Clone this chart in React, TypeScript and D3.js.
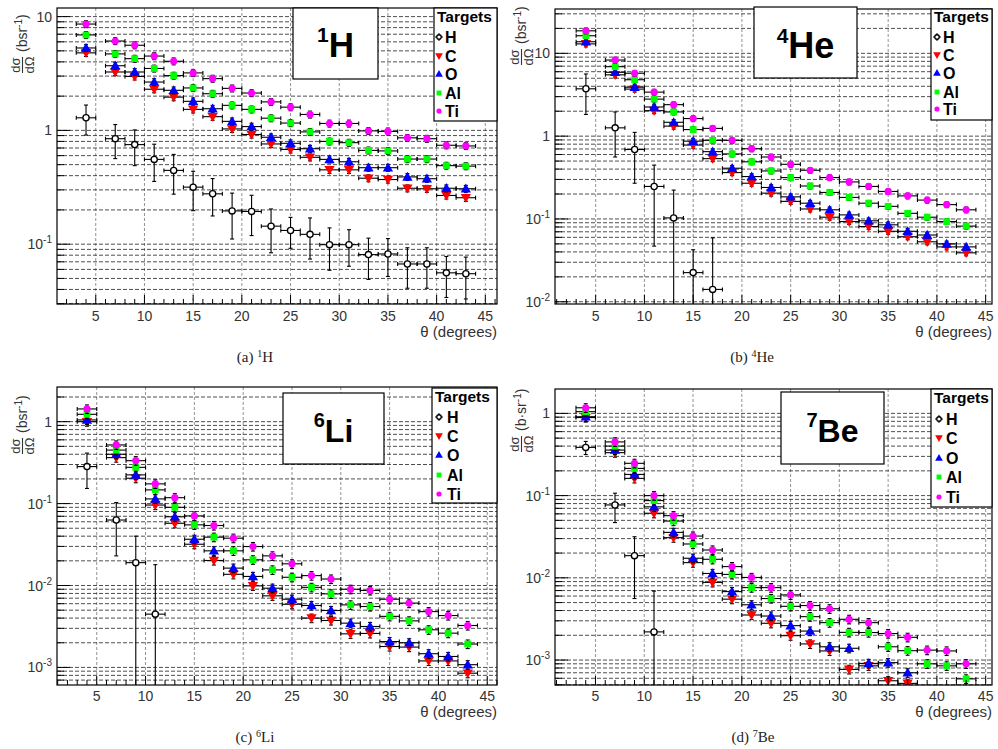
import React from "react";
import * as d3 from "d3";

// Angular bins (degrees): centres, each bin is ±1°
const ANGLES = [4, 7, 9, 11, 13, 15, 17, 19, 21, 23, 25, 27, 29, 31, 33, 35, 37, 39, 41, 43];
const BIN_HALF = 1;

// (a) 1H fragments
const H_A = [1.29, 0.845, 0.75, 0.556, 0.445, 0.317, 0.277, 0.196, 0.194, 0.144, 0.132, 0.122, 0.099, 0.099, 0.081, 0.082, 0.067, 0.067, 0.056, 0.055];
const H_A_ERR = [0.38, 0.28, 0.26, 0.2, 0.17, 0.12, 0.1, 0.085, 0.075, 0.06, 0.04, 0.048, 0.04, 0.035, 0.032, 0.03, 0.026, 0.026, 0.022, 0.022];
const C_A = [4.8, 3.26, 2.98, 2.3, 1.96, 1.53, 1.32, 1.03, 0.92, 0.76, 0.68, 0.58, 0.45, 0.45, 0.38, 0.37, 0.31, 0.307, 0.268, 0.256];
const O_A = [5.3, 3.7, 3.26, 2.66, 2.25, 1.8, 1.55, 1.2, 1.08, 0.87, 0.77, 0.69, 0.556, 0.53, 0.47, 0.47, 0.39, 0.376, 0.31, 0.307];
const AL_A = [6.9, 4.7, 4.27, 3.5, 3.03, 2.36, 2.1, 1.66, 1.53, 1.28, 1.16, 0.97, 0.8, 0.78, 0.667, 0.66, 0.56, 0.56, 0.49, 0.485];
const TI_A = [8.6, 6.1, 5.6, 4.5, 4.05, 3.2, 2.85, 2.34, 2.13, 1.78, 1.6, 1.38, 1.15, 1.15, 0.99, 0.98, 0.86, 0.845, 0.74, 0.73];

// (b) 4He fragments
const H_B = [3.73, 1.26, 0.69, 0.247, 0.103, 0.0225, 0.0141];
const H_B_ERR = [1.9, 0.7, 0.42, 0.2, 0.12, 0.02, 0.045];
const C_B = [13, 5.5, 3.7, 2.03, 1.32, 0.78, 0.535, 0.363, 0.27, 0.205, 0.163, 0.132, 0.105, 0.093, 0.081, 0.071, 0.061, 0.053, 0.046, 0.039];
const O_B = [13.8, 5.9, 3.9, 2.25, 1.47, 0.87, 0.65, 0.41, 0.325, 0.24, 0.185, 0.155, 0.129, 0.112, 0.095, 0.085, 0.071, 0.064, 0.05, 0.046];
const AL_B = [16.3, 6.9, 4.8, 2.8, 1.96, 1.2, 0.89, 0.61, 0.49, 0.38, 0.316, 0.25, 0.209, 0.182, 0.155, 0.142, 0.117, 0.105, 0.093, 0.082];
const TI_B = [18.7, 8.3, 5.75, 3.4, 2.4, 1.63, 1.24, 0.89, 0.705, 0.56, 0.457, 0.387, 0.316, 0.28, 0.247, 0.215, 0.19, 0.169, 0.149, 0.129];

// (c) 6Li fragments
const H_C = [0.283, 0.063, 0.019, 0.00447];
const H_C_ERR = [0.13, 0.04, 0.021, 0.0135];
const C_C = [1.0, 0.364, 0.204, 0.096, 0.0575, 0.0319, 0.0202, 0.0137, 0.0099, 0.00748, 0.0059, 0.004, 0.00374, 0.00257, 0.0026, 0.0018, 0.00177, 0.0012, 0.0012, 0.00085];
const O_C = [1.05, 0.4, 0.224, 0.114, 0.069, 0.0367, 0.0265, 0.0163, 0.0129, 0.00927, 0.0068, 0.0057, 0.00495, 0.00347, 0.00316, 0.00207, 0.002, 0.00147, 0.00136, 0.00108];
const AL_C = [1.23, 0.45, 0.277, 0.147, 0.09, 0.055, 0.0389, 0.0265, 0.0206, 0.0155, 0.0126, 0.0095, 0.0079, 0.0058, 0.00554, 0.0042, 0.0037, 0.00288, 0.00262, 0.00193];
const TI_C = [1.43, 0.52, 0.334, 0.174, 0.118, 0.0707, 0.054, 0.0378, 0.0299, 0.023, 0.0184, 0.0132, 0.012, 0.009, 0.0087, 0.0068, 0.0061, 0.0048, 0.0043, 0.00325];

// (d) 7Be fragments
const H_D = [0.386, 0.077, 0.0186, 0.0022];
const H_D_ERR = [0.07, 0.03, 0.013, 0.0047];
const C_D = [0.89, 0.333, 0.162, 0.061, 0.0308, 0.0153, 0.0088, 0.0055, 0.00353, 0.0028, 0.00198, 0.00157, 0.00129, 0.00077, 0.00085, 0.00056, 0.00052, null, null, null];
const O_D = [0.91, 0.358, 0.181, 0.073, 0.0357, 0.0173, 0.0113, 0.0068, 0.0047, 0.00343, 0.00262, 0.00225, 0.00145, 0.00139, 0.00091, 0.00093, 0.0007, null, null, null];
const AL_D = [1.05, 0.4, 0.214, 0.087, 0.049, 0.0258, 0.0168, 0.011, 0.0076, 0.0056, 0.0045, 0.00337, 0.00285, 0.00217, 0.00216, 0.00145, 0.0013, 0.0009, 0.00085, 0.00059];
const TI_D = [1.17, 0.45, 0.247, 0.1, 0.057, 0.0322, 0.0218, 0.0137, 0.0101, 0.0076, 0.0062, 0.0046, 0.0042, 0.00313, 0.00285, 0.0021, 0.00189, 0.00132, 0.00129, 0.0009];

// Relative uncertainty on the heavy-target points, per panel
const TARGET_REL_ERR = [0.07, 0.08, 0.12, 0.12];

const TARGETS = ["H", "C", "O", "Al", "Ti"];
const X_TICKS = [5, 10, 15, 20, 25, 30, 35, 40, 45];

type Shape = "open" | "down" | "up" | "square" | "circle";
const STYLE: Record<string, { color: string; shape: Shape }> = {
  H: { color: "#000000", shape: "open" },
  C: { color: "#ff0000", shape: "down" },
  O: { color: "#0000ff", shape: "up" },
  Al: { color: "#00ff00", shape: "square" },
  Ti: { color: "#ff00ff", shape: "circle" },
};

const PANEL_DATA = [
  { H: H_A, Herr: H_A_ERR, C: C_A, O: O_A, Al: AL_A, Ti: TI_A },
  { H: H_B, Herr: H_B_ERR, C: C_B, O: O_B, Al: AL_B, Ti: TI_B },
  { H: H_C, Herr: H_C_ERR, C: C_C, O: O_C, Al: AL_C, Ti: TI_C },
  { H: H_D, Herr: H_D_ERR, C: C_D, O: O_D, Al: AL_D, Ti: TI_D },
];

const LAYOUT = [
  {
    key: "a", mass: "1", sym: "H", unit: "bsr",
    frame: [57, 8, 497, 304], x: [1.02, 46.2], y: [0.0298, 11.9], decades: [-1, 0, 1],
    title: { box: [293, 8, 378, 79], cx: 335.5, base: 57, size: 35, sup: 21 },
    legend: { box: [434, 8, 497, 121], head: 22, rows: [37, 56, 74, 93, 111], mx: 439, tx: 445 },
    ylab: [22, 65], cap: [255, 362], tickBase: 321, xTitleBase: 337,
  },
  {
    key: "b", mass: "4", sym: "He", unit: "bsr",
    frame: [555, 9, 992, 304], x: [0.83, 45.65], y: [0.0094, 34.3], decades: [-2, -1, 0, 1],
    title: { box: [754, 7, 857, 78], cx: 805.5, base: 58, size: 36, sup: 21 },
    legend: { box: [931, 9, 992, 120], head: 22, rows: [37, 55, 73, 92, 109], mx: 937, tx: 943 },
    ylab: [521, 57], cap: [752, 362], tickBase: 321, xTitleBase: 337,
  },
  {
    key: "c", mass: "6", sym: "Li", unit: "bsr",
    frame: [57, 387, 497, 685], x: [0.93, 46.0], y: [0.00061, 2.65], decades: [-3, -2, -1, 0],
    title: { box: [283, 393, 384, 464], cx: 333.5, base: 442, size: 32, sup: 20 },
    legend: { box: [432, 388, 497, 503], head: 402, rows: [417, 436, 455, 475, 494], mx: 439, tx: 447 },
    ylab: [22, 446], cap: [255, 742], tickBase: 701, xTitleBase: 717,
  },
  {
    key: "d", mass: "7", sym: "Be", unit: "b\u00b7sr",
    frame: [555, 389, 992, 685], x: [0.85, 45.65], y: [0.000497, 1.98], decades: [-3, -2, -1, 0],
    title: { box: [781, 392, 884, 464], cx: 832.5, base: 442, size: 32, sup: 20 },
    legend: { box: [931, 389, 992, 507], head: 403, rows: [419, 438, 458, 477, 497], mx: 939, tx: 946 },
    ylab: [521, 444], cap: [753, 742], tickBase: 701, xTitleBase: 717,
  },
];

const SANS = "'Liberation Sans', Arial, Helvetica, sans-serif";
const SERIF = "'Liberation Serif', 'DejaVu Serif', serif";

const triUp = d3.symbol().type(d3.symbolTriangle).size(46)() as string;
const triUpSmall = d3.symbol().type(d3.symbolTriangle).size(26)() as string;

function Marker({ shape, color, x, y, small }: { shape: Shape; color: string; x: number; y: number; small?: boolean }) {
  const k = small ? 0.72 : 1;
  switch (shape) {
    case "open":
      return <circle cx={x} cy={y} r={3.1 * k} fill="#fff" stroke="#000" strokeWidth={1.3} />;
    case "circle":
      return <circle cx={x} cy={y} r={3.6 * k} fill={color} />;
    case "square":
      return <rect x={x - 3.4 * k} y={y - 3.4 * k} width={6.8 * k} height={6.8 * k} fill={color} />;
    case "up":
      return <path d={small ? triUpSmall : triUp} transform={`translate(${x},${y + 0.8 * k})`} fill={color} />;
    case "down":
      return <path d={small ? triUpSmall : triUp} transform={`translate(${x},${y - 0.8 * k}) rotate(180)`} fill={color} />;
  }
}

function Sup({ children, size = 9, rise = 5 }: { children: React.ReactNode; size?: number; rise?: number }) {
  return (
    <tspan dy={-rise} fontSize={size}>
      {children}
    </tspan>
  );
}

function Panel({ idx }: { idx: number }) {
  const L = LAYOUT[idx];
  const D = PANEL_DATA[idx] as Record<string, (number | null)[]>;
  const [fx0, fy0, fx1, fy1] = L.frame;
  const xs = d3.scaleLinear().domain(L.x).range([fx0, fx1]);
  const ys = d3.scaleLog().domain(L.y).range([fy1, fy0]);
  const clipId = `clip-${L.key}`;
  const rel = TARGET_REL_ERR[idx];

  // horizontal grid at every 1..9 × 10^k inside the range
  const gridY: number[] = [];
  for (let e = -5; e <= 2; e++) {
    for (let m = 1; m <= 9; m++) {
      const v = m * Math.pow(10, e);
      if (v >= L.y[0] && v <= L.y[1]) gridY.push(v);
    }
  }
  const minorX = d3.range(Math.ceil(L.x[0]), Math.floor(L.x[1]) + 1);

  const errorBars = (key: string) => {
    const vals = D[key];
    return vals.map((v, i) => {
      if (v == null) return null;
      const err = key === "H" ? (D.Herr[i] as number) : v * rel;
      const a = ANGLES[i];
      const cx = xs(a);
      const cy = ys(v);
      const yt = ys(v + err);
      const lo = v - err;
      const yb = lo > L.y[0] ? ys(lo) : fy1 + 2;
      const xl = xs(a - BIN_HALF);
      const xr = xs(a + BIN_HALF);
      return (
        <g key={`e-${key}-${i}`} stroke="#000" strokeWidth={1.1}>
          <line x1={xl} x2={xr} y1={cy} y2={cy} />
          <line x1={cx} x2={cx} y1={yt} y2={yb} />
          <line x1={cx - 2} x2={cx + 2} y1={yt} y2={yt} />
          {lo > L.y[0] && <line x1={cx - 2} x2={cx + 2} y1={yb} y2={yb} />}
          <line x1={xl} x2={xl} y1={cy - 2} y2={cy + 2} />
          <line x1={xr} x2={xr} y1={cy - 2} y2={cy + 2} />
        </g>
      );
    });
  };

  const [lx0, ly0, lx1, ly1] = L.legend.box;
  const [tx0, ty0, tx1, ty1] = L.title.box;
  const [ox, oy] = L.ylab;

  return (
    <g>
      <defs>
        <clipPath id={clipId}>
          <rect x={fx0} y={fy0} width={fx1 - fx0} height={fy1 - fy0} />
        </clipPath>
      </defs>
      <rect x={fx0} y={fy0} width={fx1 - fx0} height={fy1 - fy0} fill="#fff" />

      {/* grid */}
      <g>
        {X_TICKS.map((t) => (
          <line key={`gx${t}`} x1={xs(t)} x2={xs(t)} y1={fy0} y2={fy1} stroke="#777" strokeWidth={0.8} strokeDasharray="3,2" />
        ))}
        {gridY.map((v, i) => (
          <line key={`gy${i}`} x1={fx0} x2={fx1} y1={ys(v)} y2={ys(v)} stroke="#222" strokeWidth={0.8} strokeDasharray="4,2" />
        ))}
      </g>

      {/* data */}
      <g clipPath={`url(#${clipId})`}>
        {TARGETS.map((key) => (
          <g key={key}>
            {errorBars(key)}
            {D[key].map((v, i) =>
              v == null ? null : (
                <Marker key={`m-${key}-${i}`} shape={STYLE[key].shape} color={STYLE[key].color} x={xs(ANGLES[i])} y={ys(v)} />
              )
            )}
          </g>
        ))}
      </g>

      {/* axis ticks */}
      <g stroke="#000" strokeWidth={1}>
        {minorX.map((t) => (
          <line key={`tx${t}`} x1={xs(t)} x2={xs(t)} y1={fy1} y2={fy1 - (t % 5 === 0 ? 9 : 5)} />
        ))}
        {gridY.map((v, i) => {
          const major = Math.abs(Math.log10(v) - Math.round(Math.log10(v))) < 1e-9;
          return <line key={`ty${i}`} x1={fx0} x2={fx0 + (major ? 13 : 7)} y1={ys(v)} y2={ys(v)} />;
        })}
      </g>
      <rect x={fx0} y={fy0} width={fx1 - fx0} height={fy1 - fy0} fill="none" stroke="#000" strokeWidth={1.2} />

      {/* tick labels */}
      <g fontFamily={SANS} fontSize={14} fill="#333">
        {X_TICKS.map((t) => (
          <text key={`lx${t}`} x={xs(t)} y={L.tickBase} textAnchor="middle">
            {t}
          </text>
        ))}
        {L.decades.map((e) => (
          <text key={`ly${e}`} x={fx0 - 5} y={ys(Math.pow(10, e)) + 5} textAnchor="end">
            {e === 0 ? "1" : "10"}
            {e !== 0 && e !== 1 && <Sup size={10} rise={6}>{String(e)}</Sup>}
          </text>
        ))}
        <text x={fx1} y={L.xTitleBase} textAnchor="end" fontSize={15}>
          θ (degrees)
        </text>
      </g>

      {/* y-axis title */}
      <g transform={`translate(${ox},${oy}) rotate(-90)`} fontFamily={SANS} fill="#333">
        <text x={0} y={-2} textAnchor="middle" fontSize={13}>
          dσ
        </text>
        <line x1={-8} x2={8} y1={0.5} y2={0.5} stroke="#333" strokeWidth={1.1} />
        <text x={0} y={11.5} textAnchor="middle" fontSize={13}>
          dΩ
        </text>
        <text x={13} y={5} fontSize={14}>
          ({L.unit}
          <Sup size={10} rise={5}>-1</Sup>
          <tspan dy={5}>)</tspan>
        </text>
      </g>

      {/* nucleus label */}
      <rect x={tx0} y={ty0} width={tx1 - tx0} height={ty1 - ty0} fill="#fff" stroke="#000" strokeWidth={1.2} />
      <text x={L.title.cx} y={L.title.base} textAnchor="middle" fontFamily={SANS} fontWeight="bold" fill="#000">
        <tspan fontSize={L.title.sup} dy={-15}>
          {L.mass}
        </tspan>
        <tspan fontSize={L.title.size} dy={15}>
          {L.sym}
        </tspan>
      </text>

      {/* legend */}
      <rect x={lx0} y={ly0} width={lx1 - lx0} height={ly1 - ly0} fill="#fff" stroke="#000" strokeWidth={1.2} />
      <g fontFamily={SANS} fontWeight="bold" fill="#000">
        <text x={lx0 + 3} y={L.legend.head} fontSize={15.5}>
          Targets
        </text>
        {TARGETS.map((key, i) => {
          const yy = L.legend.rows[i];
          return (
            <g key={`lg${key}`}>
              {key === "H" && (
                <g stroke="#000" strokeWidth={1}>
                  <line x1={L.legend.mx - 4} x2={L.legend.mx + 4} y1={yy} y2={yy} />
                  <line x1={L.legend.mx} x2={L.legend.mx} y1={yy - 4} y2={yy + 4} />
                </g>
              )}
              <Marker shape={STYLE[key].shape} color={STYLE[key].color} x={L.legend.mx} y={yy} small />
              <text x={L.legend.tx} y={yy + 5.5} fontSize={16}>
                {key}
              </text>
            </g>
          );
        })}
      </g>

      {/* caption */}
      <text x={L.cap[0]} y={L.cap[1]} textAnchor="middle" fontFamily={SERIF} fontSize={15} fill="#222">
        ({L.key}){" "}
        <Sup size={10} rise={5}>
          {L.mass}
        </Sup>
        <tspan dy={5}>{L.sym}</tspan>
      </text>
    </g>
  );
}

export default function App() {
  return (
    <svg width={998} height={749} style={{ position: "absolute", left: 0, top: 0, background: "#fff" }}>
      <rect width={998} height={749} fill="#fff" />
      {LAYOUT.map((_, i) => (
        <Panel key={i} idx={i} />
      ))}
    </svg>
  );
}
